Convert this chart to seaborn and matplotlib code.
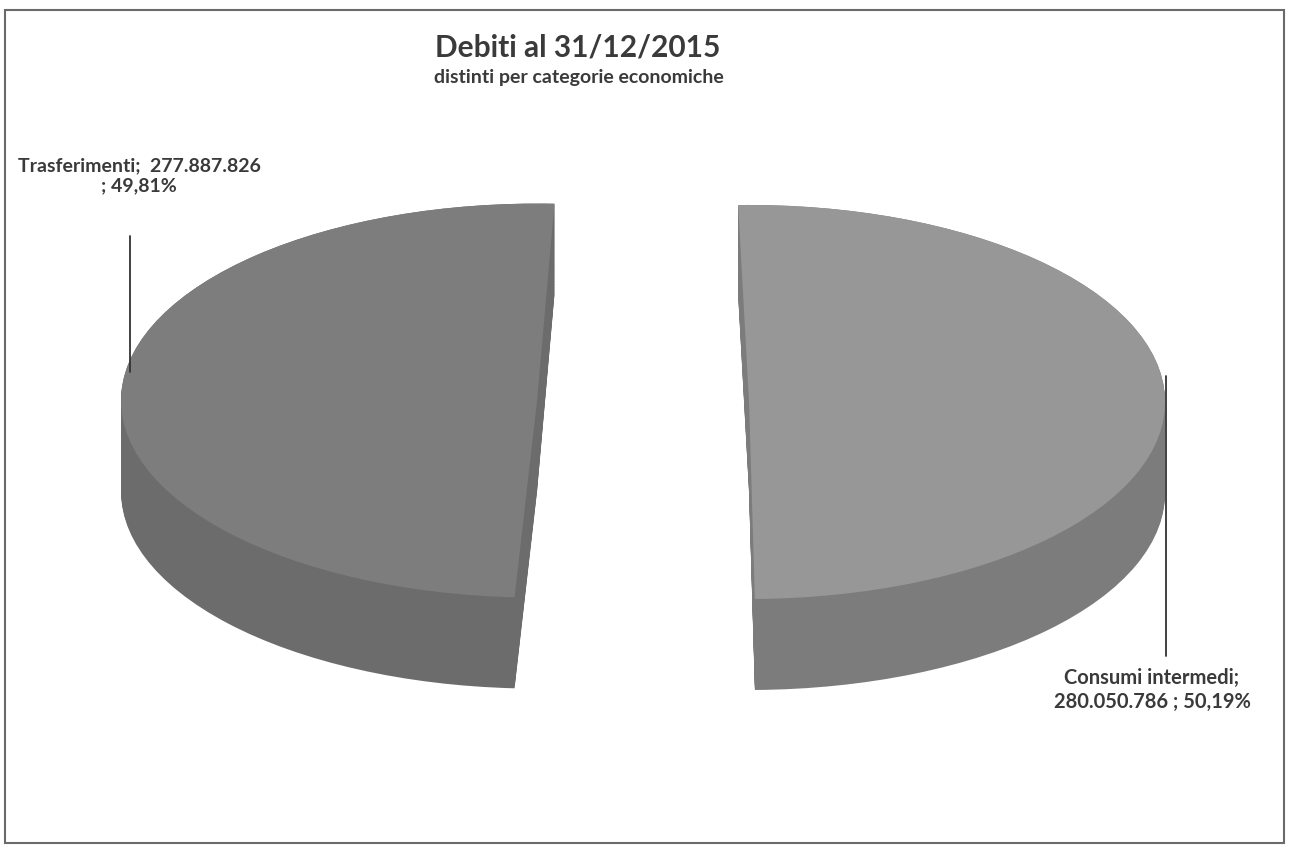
import numpy as np
import matplotlib
matplotlib.use("Agg")
import matplotlib.pyplot as plt
import seaborn as sns
from matplotlib.patches import Rectangle

# ---- data ----
categories = ["Trasferimenti", "Consumi intermedi"]
values = [277887826, 280050786]
top_colors = ["#7d7d7d", "#979797"]
side_colors = ["#6c6c6c", "#7c7c7c"]

sns.set_theme(style="white")
plt.rcParams["font.family"] = ["Lato", "DejaVu Sans"]

W, H = 1289, 848
fig = plt.figure(figsize=(W / 100, H / 100), dpi=100)
fig.patch.set_facecolor("white")
ax = fig.add_axes([0, 0, 1, 1])

# pixel mapping of unit ellipse: x_px = cx + rx*X ; y_px = cy - ry*Y
cx, cy, rx, ry = 643, 403, 416, 197
depth = 91 / ry
explode = [0.255, 0.255]
# each exploded piece is seen from a slightly different angle (3D perspective)
starts = [87.6, 91.5]

for i in range(len(values)):
    top = ["none"] * len(values)
    side = ["none"] * len(values)
    top[i] = top_colors[i]
    side[i] = side_colors[i]
    for d in np.linspace(depth, 0.0, 60):
        ax.pie(values, explode=explode, startangle=starts[i], counterclock=True,
               colors=side, center=(0, -d), radius=1,
               wedgeprops=dict(linewidth=0))
    ax.pie(values, explode=explode, startangle=starts[i], counterclock=True,
           colors=top, center=(0, 0), radius=1,
           wedgeprops=dict(linewidth=0))

ax.set_aspect("auto")
ax.set_xlim(-cx / rx, (W - cx) / rx)
ax.set_ylim((cy - H) / ry, cy / ry)
ax.axis("off")

def X(px):
    return (px - cx) / rx

def Y(py):
    return (cy - py) / ry

total = sum(values)
def fmt(v):
    return f"{v:,}".replace(",", ".")
def pct(v):
    return f"{100 * v / total:.2f}".replace(".", ",") + "%"

txt_color = "#3a3a3a"
# left label
ax.plot([X(130), X(130)], [Y(236), Y(372)], color="#333333", lw=1.3)
ax.text(X(139), Y(176), f"{categories[0]};  {fmt(values[0])}\n; {pct(values[0])}",
        ha="center", va="center", multialignment="center",
        fontsize=14, fontweight="bold", color=txt_color, linespacing=1.2)
# right label
ax.plot([X(1166), X(1166)], [Y(376), Y(656)], color="#333333", lw=1.3)
ax.text(X(1152), Y(690), f"{categories[1]};\n{fmt(values[1])} ; {pct(values[1])}",
        ha="center", va="center", multialignment="center",
        fontsize=14.5, fontweight="bold", color=txt_color, linespacing=1.2)

# titles
fig.text(578 / W, 1 - 47 / H, "Debiti al 31/12/2015", ha="center", va="center",
         fontsize=21.5, fontweight="bold", color=txt_color)
fig.text(579 / W, 1 - 78 / H, "distinti per categorie economiche", ha="center",
         va="center", fontsize=14, fontweight="bold", color=txt_color)

# outer border
fig.patches.append(Rectangle((5 / W, 5 / H), 1 - 10 / W, 1 - 15 / H,
                             transform=fig.transFigure, fill=False,
                             edgecolor="#6a6a6a", lw=1.5))

fig.savefig("out.png", dpi=100, facecolor="white")
